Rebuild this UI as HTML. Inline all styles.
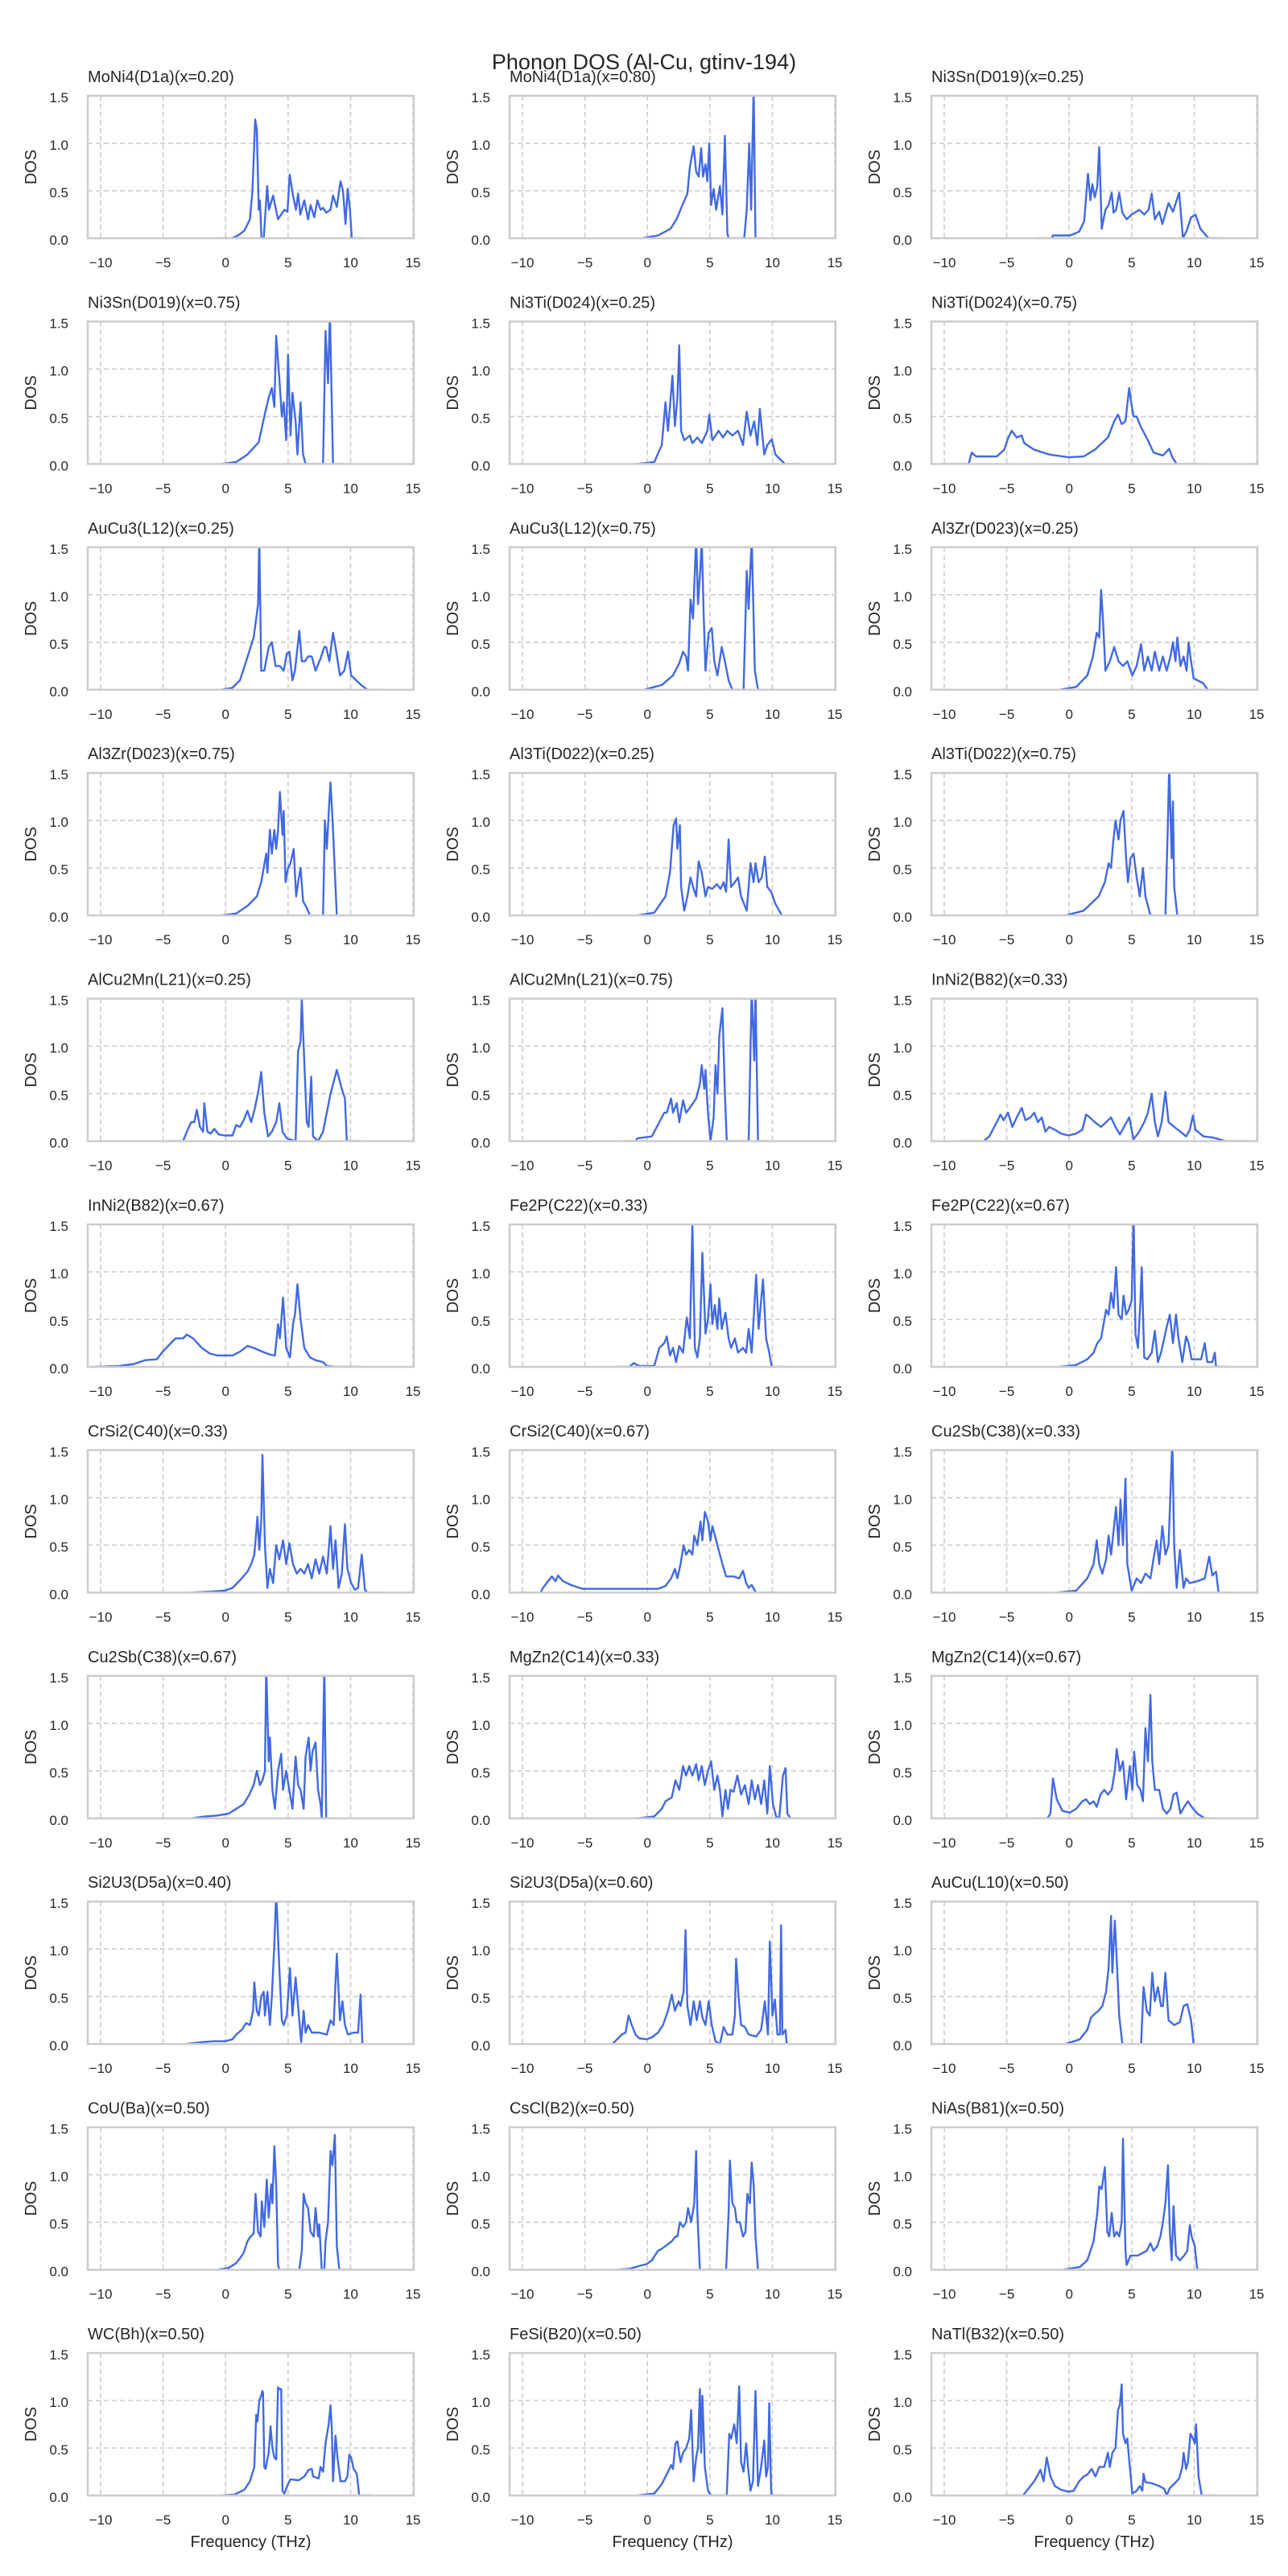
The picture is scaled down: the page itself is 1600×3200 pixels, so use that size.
<!DOCTYPE html>
<html><head><meta charset="utf-8"><title>Phonon DOS (Al-Cu, gtinv-194)</title>
<style>
html,body{margin:0;padding:0;background:#fff;}
svg{display:block;font-family:"Liberation Sans","DejaVu Sans",sans-serif;}
</style></head>
<body>
<svg id="fig" width="1600" height="3200" viewBox="0 0 1600 3200" xmlns="http://www.w3.org/2000/svg">
<rect width="1600" height="3200" fill="#fff"/>
<text x="800" y="86" text-anchor="middle" font-size="27" fill="#262626">Phonon DOS (Al-Cu, gtinv-194)</text>
</svg>
<script>
const titles = ["MoNi4(D1a)(x=0.20)","MoNi4(D1a)(x=0.80)","Ni3Sn(D019)(x=0.25)","Ni3Sn(D019)(x=0.75)","Ni3Ti(D024)(x=0.25)","Ni3Ti(D024)(x=0.75)","AuCu3(L12)(x=0.25)","AuCu3(L12)(x=0.75)","Al3Zr(D023)(x=0.25)","Al3Zr(D023)(x=0.75)","Al3Ti(D022)(x=0.25)","Al3Ti(D022)(x=0.75)","AlCu2Mn(L21)(x=0.25)","AlCu2Mn(L21)(x=0.75)","InNi2(B82)(x=0.33)","InNi2(B82)(x=0.67)","Fe2P(C22)(x=0.33)","Fe2P(C22)(x=0.67)","CrSi2(C40)(x=0.33)","CrSi2(C40)(x=0.67)","Cu2Sb(C38)(x=0.33)","Cu2Sb(C38)(x=0.67)","MgZn2(C14)(x=0.33)","MgZn2(C14)(x=0.67)","Si2U3(D5a)(x=0.40)","Si2U3(D5a)(x=0.60)","AuCu(L10)(x=0.50)","CoU(Ba)(x=0.50)","CsCl(B2)(x=0.50)","NiAs(B81)(x=0.50)","WC(Bh)(x=0.50)","FeSi(B20)(x=0.50)","NaTl(B32)(x=0.50)"];
const xTicks = [-10,-5,0,5,10,15];
const xTickLabels = ["\u221210","\u22125","0","5","10","15"];
const yTicks = [0,0.5,1.0,1.5];
const yTickLabels = ["0.0","0.5","1.0","1.5"];
const xDomain = [-11.03, 15.06];
const yDomain = [0, 1.5];
// each curve: [frequency (THz), DOS] pairs
const dos0=[[-0.6,0],[0.5,0],[1,0.03],[1.5,0.08],[1.95,0.2],[2.15,0.5],[2.37,1.25],[2.5,1.15],[2.65,0.3],[2.75,0.4],[2.87,0],[3.05,0],[3.33,0.55],[3.47,0.3],[3.8,0.45],[4.2,0.2],[4.7,0.3],[4.95,0.28],[5.13,0.67],[5.4,0.45],[5.63,0.3],[5.8,0.47],[5.98,0.25],[6.3,0.4],[6.6,0.2],[6.8,0.35],[7.1,0.22],[7.35,0.4],[7.6,0.3],[7.8,0.32],[8.05,0.27],[8.4,0.3],[8.6,0.45],[8.9,0.33],[9.2,0.6],[9.4,0.5],[9.6,0.15],[9.77,0.52],[9.95,0.3],[10.1,0],[11.1,0]];
const dos1=[[-0.45,0],[0.85,0.03],[1.85,0.1],[2.33,0.2],[2.8,0.35],[3.2,0.47],[3.4,0.75],[3.7,0.97],[3.9,0.7],[4.1,0.65],[4.3,0.95],[4.45,0.65],[4.65,0.78],[4.8,0.6],[4.95,1.0],[5.1,0.35],[5.3,0.52],[5.5,0.3],[5.8,0.55],[6.0,0.25],[6.2,1.08],[6.4,0.05],[6.5,0],[7.75,0],[7.95,0.3],[8.15,1.0],[8.3,0.3],[8.5,1.6],[8.65,0],[9.5,0]];
const dos2=[[-2.6,0],[-1.4,0],[-1.3,0.03],[0.07,0.03],[0.8,0.07],[1.2,0.18],[1.5,0.68],[1.7,0.4],[1.85,0.57],[2.05,0.43],[2.25,0.55],[2.4,0.96],[2.6,0.1],[2.9,0.3],[3.15,0.35],[3.4,0.48],[3.55,0.27],[3.75,0.3],[4.0,0.48],[4.25,0.27],[4.6,0.2],[5.0,0.25],[5.6,0.3],[6.0,0.25],[6.35,0.3],[6.6,0.47],[6.85,0.2],[7.2,0.28],[7.45,0.15],[7.95,0.37],[8.3,0.28],[8.8,0.48],[9.1,0],[9.4,0.08],[9.75,0.22],[10.1,0.25],[10.5,0.1],[11.15,0],[12.5,0]];
const dos3=[[-0.35,0],[0.85,0.02],[1.75,0.1],[2.65,0.23],[3.1,0.5],[3.45,0.7],[3.7,0.8],[3.9,0.6],[4.05,1.35],[4.3,0.9],[4.5,0.5],[4.65,0.65],[4.85,0.25],[5.0,1.15],[5.2,0.3],[5.35,0.75],[5.6,0.45],[5.75,0.1],[6.0,0.65],[6.2,0.1],[6.4,0],[7.8,0],[8.0,1.4],[8.2,0.85],[8.35,1.6],[8.6,0],[9.45,0]];
const dos4=[[-0.85,0],[0.55,0.02],[1.15,0.2],[1.45,0.65],[1.65,0.35],[2.0,0.93],[2.2,0.4],[2.4,0.7],[2.55,1.25],[2.7,0.35],[2.95,0.25],[3.4,0.3],[3.6,0.22],[4.0,0.28],[4.35,0.22],[4.8,0.35],[4.95,0.52],[5.2,0.25],[5.7,0.35],[6.05,0.28],[6.4,0.35],[6.8,0.3],[7.25,0.35],[7.65,0.2],[7.95,0.55],[8.25,0.3],[8.55,0.45],[8.8,0.2],[9.0,0.58],[9.35,0.1],[9.6,0.2],[9.95,0.26],[10.25,0.1],[11.0,0],[12.2,0]];
const dos5=[[-10.25,0],[-8.05,0],[-7.8,0.12],[-7.45,0.08],[-5.8,0.08],[-5.2,0.15],[-4.9,0.27],[-4.6,0.35],[-4.2,0.28],[-3.8,0.3],[-3.6,0.22],[-2.8,0.15],[-1.6,0.1],[-0.05,0.07],[1.15,0.08],[2.05,0.15],[3.1,0.28],[3.6,0.45],[3.9,0.52],[4.2,0.42],[4.5,0.45],[4.8,0.8],[4.95,0.65],[5.15,0.5],[5.4,0.5],[5.7,0.4],[6.3,0.25],[6.75,0.12],[7.5,0.09],[8.0,0.16],[8.25,0.07],[8.6,0],[10.5,0]];
const dos6=[[-0.35,0],[0.55,0.02],[1.15,0.1],[1.65,0.3],[2.25,0.55],[2.4,0.7],[2.6,0.9],[2.7,1.6],[2.85,0.2],[3.1,0.2],[3.45,0.45],[3.7,0.5],[4.0,0.25],[4.35,0.25],[4.65,0.2],[4.9,0.38],[5.1,0.4],[5.35,0.1],[5.55,0.2],[5.9,0.62],[6.1,0.3],[6.35,0.3],[6.6,0.35],[6.9,0.35],[7.2,0.2],[7.6,0.33],[7.9,0.45],[8.05,0.45],[8.3,0.3],[8.6,0.6],[8.8,0.45],[9.15,0.15],[9.5,0.2],[9.8,0.4],[10.05,0.15],[10.85,0.05],[11.35,0],[12.4,0]];
const dos7=[[-0.25,0],[1.15,0.05],[2.05,0.15],[2.55,0.28],[2.85,0.4],[3.1,0.35],[3.25,0.2],[3.45,0.95],[3.65,0.75],[3.9,1.6],[4.05,0.9],[4.25,1.3],[4.35,1.6],[4.5,0.8],[4.65,0.2],[4.9,0.6],[5.15,0.65],[5.35,0.3],[5.6,0.15],[5.95,0.45],[6.2,0.3],[6.5,0.1],[6.8,0],[7.7,0],[7.95,1.25],[8.1,0.85],[8.35,1.6],[8.6,0.2],[8.85,0],[9.65,0]];
const dos8=[[-0.8,0],[0.55,0.03],[1.45,0.15],[1.9,0.35],[2.2,0.6],[2.4,0.55],[2.55,1.05],[2.7,0.75],[2.9,0.2],[3.25,0.3],[3.6,0.45],[3.95,0.3],[4.3,0.25],[4.65,0.3],[5.05,0.15],[5.4,0.25],[5.75,0.48],[6.0,0.2],[6.3,0.35],[6.6,0.2],[6.85,0.4],[7.2,0.2],[7.5,0.35],[7.8,0.2],[8.1,0.35],[8.3,0.5],[8.5,0.3],[8.65,0.55],[8.9,0.25],[9.15,0.35],[9.4,0.2],[9.55,0.5],[9.75,0.3],[9.95,0.12],[10.7,0.07],[11.1,0],[12.05,0]];
const dos9=[[-0.35,0],[0.85,0.02],[1.75,0.1],[2.5,0.2],[2.85,0.35],[3.05,0.5],[3.25,0.65],[3.35,0.45],[3.55,0.9],[3.7,0.65],[3.9,0.9],[4.05,0.7],[4.2,0.9],[4.35,1.3],[4.55,0.85],[4.65,1.1],[4.8,0.35],[5.0,0.5],[5.2,0.55],[5.45,0.7],[5.65,0.2],[5.8,0.35],[6.0,0.5],[6.2,0.15],[6.5,0.08],[6.75,0],[7.8,0],[7.95,1.0],[8.1,0.7],[8.3,1.2],[8.4,1.4],[8.6,0.9],[8.8,0.3],[8.9,0],[9.75,0]];
const dos10=[[-0.8,0],[0.55,0.03],[1.45,0.2],[1.8,0.45],[2.1,0.95],[2.3,1.02],[2.4,0.7],[2.6,0.95],[2.7,0.3],[2.95,0.05],[3.2,0.2],[3.45,0.4],[3.65,0.3],[3.9,0.2],[4.1,0.57],[4.35,0.45],[4.65,0.2],[4.85,0.3],[5.2,0.28],[5.55,0.33],[5.85,0.28],[6.1,0.35],[6.3,0.25],[6.5,0.8],[6.7,0.3],[7.0,0.35],[7.25,0.4],[7.5,0.2],[7.95,0.05],[8.25,0.55],[8.5,0.35],[8.65,0.55],[8.9,0.35],[9.15,0.4],[9.4,0.62],[9.6,0.3],[9.9,0.25],[10.25,0.12],[10.55,0.05],[10.75,0],[11.65,0]];
const dos11=[[-0.3,0],[1.15,0.05],[2.35,0.2],[2.85,0.35],[3.15,0.55],[3.35,0.5],[3.5,0.75],[3.7,1.0],[3.95,0.8],[4.1,1.0],[4.35,1.1],[4.55,0.6],[4.7,0.35],[4.9,0.6],[5.15,0.65],[5.4,0.4],[5.65,0.2],[5.9,0.5],[6.1,0.2],[6.5,0],[7.7,0],[7.9,1.0],[8.0,1.6],[8.2,0.6],[8.3,1.2],[8.4,0.3],[8.65,0],[9.75,0]];
const dos12=[[-4.8,0],[-3.4,0],[-3.1,0.1],[-2.75,0.2],[-2.5,0.2],[-2.3,0.33],[-2.05,0.15],[-1.8,0.1],[-1.7,0.4],[-1.45,0.1],[-1.2,0.08],[-0.9,0.13],[-0.55,0.07],[-0.05,0.06],[0.55,0.06],[0.85,0.17],[1.15,0.15],[1.45,0.22],[1.75,0.32],[2.05,0.2],[2.35,0.35],[2.65,0.55],[2.85,0.73],[3.1,0.3],[3.4,0.05],[3.7,0.1],[4.05,0.2],[4.3,0.4],[4.55,0.1],[4.9,0.03],[5.6,0],[5.8,0.95],[6.0,1.05],[6.1,1.5],[6.25,1.0],[6.5,0.2],[6.65,0.15],[6.85,0.68],[7.0,0.05],[7.4,0],[7.8,0.1],[8.4,0.5],[8.9,0.75],[9.3,0.55],[9.55,0.45],[9.7,0],[10.9,0]];
const dos13=[[-2.0,0],[-0.95,0],[-0.8,0.03],[0.35,0.05],[0.95,0.2],[1.35,0.3],[1.55,0.3],[1.9,0.45],[2.05,0.3],[2.35,0.4],[2.55,0.2],[2.85,0.43],[3.1,0.3],[3.4,0.35],[3.65,0.4],[3.9,0.45],[4.2,0.6],[4.35,0.8],[4.55,0.55],[4.65,0.75],[4.85,0.3],[5.05,0],[5.3,0.25],[5.45,0.8],[5.6,0.5],[5.75,1.1],[6.0,1.4],[6.2,0.5],[6.35,0],[8.1,0],[8.35,1.6],[8.55,0.85],[8.65,1.6],[8.85,0],[9.8,0]];
const dos14=[[-8.8,0],[-6.85,0],[-6.4,0.05],[-5.8,0.2],[-5.5,0.28],[-5.25,0.22],[-4.9,0.3],[-4.55,0.15],[-4.2,0.25],[-3.8,0.35],[-3.5,0.22],[-3.1,0.25],[-2.8,0.3],[-2.5,0.2],[-2.2,0.25],[-1.9,0.1],[-1.6,0.15],[-1.15,0.12],[-0.65,0.08],[-0.05,0.06],[0.55,0.08],[1.05,0.12],[1.35,0.28],[1.65,0.25],[2.05,0.2],[2.55,0.15],[2.95,0.2],[3.35,0.25],[3.7,0.15],[4.05,0.07],[4.5,0.18],[4.8,0.25],[5.15,0.02],[5.6,0.1],[6.0,0.2],[6.3,0.3],[6.6,0.5],[6.85,0.2],[7.1,0.05],[7.4,0.2],[7.7,0.52],[7.95,0.2],[8.4,0.15],[8.9,0.1],[9.35,0.05],[9.65,0.12],[9.9,0.27],[10.1,0.12],[10.75,0.05],[11.45,0.04],[12.55,0],[14.5,0]];
const dos15=[[-10.65,0],[-8.55,0.01],[-7.35,0.03],[-6.45,0.07],[-5.5,0.08],[-5.1,0.15],[-4.6,0.22],[-4.0,0.3],[-3.4,0.3],[-3.1,0.34],[-2.6,0.3],[-1.9,0.2],[-1.25,0.14],[-0.65,0.12],[0.55,0.12],[1.15,0.16],[1.75,0.22],[2.25,0.2],[2.95,0.16],[3.55,0.13],[3.95,0.12],[4.2,0.45],[4.35,0.3],[4.6,0.73],[4.85,0.2],[5.15,0.1],[5.4,0.45],[5.55,0.55],[5.75,0.87],[6.0,0.5],[6.3,0.2],[6.75,0.1],[7.2,0.07],[7.8,0.05],[8.1,0.01],[8.7,0],[10.85,0]];
const dos16=[[-2.5,0],[-1.45,0],[-1.1,0.04],[-0.65,0.01],[0.55,0.01],[0.95,0.2],[1.35,0.25],[1.55,0.32],[1.8,0.12],[2.05,0.2],[2.3,0.05],[2.55,0.22],[2.85,0.15],[3.15,0.52],[3.4,0.3],[3.6,1.5],[3.8,0.2],[4.0,0.1],[4.2,0.3],[4.4,1.2],[4.65,0.35],[4.85,0.5],[5.05,0.87],[5.2,0.45],[5.4,0.65],[5.6,0.4],[5.75,0.72],[5.95,0.4],[6.25,0.57],[6.5,0.3],[6.7,0.2],[7.0,0.3],[7.25,0.15],[7.65,0.2],[7.9,0.15],[8.1,0.4],[8.35,0.15],[8.7,0.97],[8.9,0.4],[9.25,0.92],[9.5,0.3],[9.75,0.15],[9.95,0],[11.05,0]];
const dos17=[[-0.8,0],[0.55,0.02],[1.45,0.08],[1.95,0.15],[2.25,0.25],[2.55,0.3],[2.95,0.6],[3.15,0.55],[3.35,0.78],[3.55,0.62],[3.75,1.05],[3.95,0.55],[4.2,0.5],[4.35,0.75],[4.55,0.55],[4.75,0.6],[5.0,0.7],[5.15,1.6],[5.3,0.35],[5.5,0.2],[5.7,0.7],[5.8,1.05],[6.0,0.1],[6.25,0.08],[6.6,0.15],[6.85,0.38],[7.1,0.05],[7.35,0.15],[7.6,0.3],[7.8,0.42],[8.05,0.55],[8.3,0.25],[8.55,0.55],[8.75,0.3],[9.05,0.05],[9.35,0.32],[9.55,0.25],[9.8,0.08],[10.55,0.08],[10.85,0.25],[11.05,0.05],[11.45,0.05],[11.65,0.15],[11.75,0],[12.8,0]];
const dos18=[[-2.95,0],[-1.25,0.01],[-0.05,0.02],[0.55,0.05],[1.15,0.13],[1.75,0.22],[2.05,0.3],[2.3,0.4],[2.4,0.55],[2.55,0.8],[2.7,0.45],[2.85,0.75],[2.95,1.45],[3.15,0.5],[3.35,0.05],[3.55,0.25],[3.8,0.1],[4.05,0.5],[4.3,0.35],[4.6,0.55],[4.85,0.3],[5.1,0.52],[5.4,0.3],[5.7,0.2],[6.0,0.25],[6.3,0.2],[6.6,0.3],[6.9,0.15],[7.2,0.35],[7.5,0.2],[7.8,0.38],[8.1,0.2],[8.4,0.7],[8.6,0.25],[8.8,0.55],[9.05,0.05],[9.3,0.2],[9.55,0.72],[9.75,0.25],[10.05,0.1],[10.35,0.03],[10.6,0.05],[10.9,0.4],[11.15,0.03],[11.35,0],[12.65,0]];
const dos19=[[-10.2,0],[-8.55,0],[-8.35,0.05],[-7.95,0.12],[-7.65,0.17],[-7.35,0.12],[-7.15,0.18],[-6.75,0.12],[-6.1,0.08],[-5.2,0.04],[-2.8,0.04],[0.85,0.04],[1.45,0.07],[1.9,0.15],[2.2,0.25],[2.4,0.15],[2.65,0.3],[2.9,0.5],[3.1,0.4],[3.35,0.45],[3.6,0.4],[3.75,0.6],[4.0,0.5],[4.25,0.75],[4.4,0.55],[4.6,0.85],[4.85,0.75],[5.05,0.55],[5.2,0.7],[5.45,0.58],[5.7,0.45],[6.0,0.3],[6.3,0.17],[6.9,0.17],[7.35,0.15],[7.65,0.23],[7.9,0.1],[8.1,0.05],[8.35,0.08],[8.6,0.02],[8.7,0],[10.4,0]];
const dos20=[[-1.0,0],[0.55,0.02],[1.45,0.15],[1.95,0.3],[2.2,0.55],[2.4,0.3],[2.65,0.2],[2.95,0.35],[3.15,0.6],[3.35,0.4],[3.55,0.65],[3.75,0.9],[3.95,0.5],[4.1,0.98],[4.3,0.5],[4.5,1.2],[4.65,0.3],[5.0,0.02],[5.4,0.15],[5.75,0.1],[6.1,0.2],[6.5,0.15],[6.8,0.4],[7.0,0.55],[7.2,0.3],[7.45,0.7],[7.7,0.4],[7.95,0.5],[8.1,1.05],[8.25,1.6],[8.4,0.5],[8.6,0.05],[8.85,0.45],[9.15,0.05],[9.35,0.15],[9.65,0.1],[10.25,0.12],[10.85,0.15],[11.2,0.38],[11.45,0.18],[11.75,0.22],[11.95,0],[13.15,0]];
const dos21=[[-2.8,0],[-1.6,0.02],[-0.65,0.03],[0.25,0.05],[0.85,0.1],[1.45,0.15],[1.9,0.25],[2.25,0.35],[2.5,0.5],[2.75,0.35],[2.95,0.4],[3.15,0.5],[3.25,1.6],[3.45,0.6],[3.55,0.85],[3.75,0.3],[3.95,0.1],[4.2,0.5],[4.45,0.68],[4.6,0.3],[4.85,0.5],[5.1,0.3],[5.35,0.1],[5.6,0.65],[5.8,0.35],[6.0,0.3],[6.25,0.1],[6.4,0.65],[6.65,0.85],[6.8,0.5],[6.95,0.7],[7.2,0.8],[7.4,0.3],[7.6,0.15],[7.7,0],[7.9,1.6],[8.05,0],[9.0,0]];
const dos22=[[-0.8,0],[0.55,0.02],[1.15,0.1],[1.45,0.18],[1.95,0.22],[2.25,0.4],[2.55,0.3],[2.85,0.55],[3.1,0.45],[3.35,0.55],[3.6,0.45],[3.9,0.57],[4.1,0.4],[4.35,0.55],[4.6,0.35],[4.85,0.5],[5.1,0.6],[5.35,0.3],[5.6,0.45],[5.8,0.3],[6.0,0.02],[6.25,0.3],[6.45,0.1],[6.65,0.3],[6.9,0.28],[7.2,0.45],[7.5,0.25],[7.8,0.35],[8.1,0.15],[8.35,0.4],[8.6,0.2],[8.85,0.35],[9.1,0.15],[9.35,0.4],[9.6,0.05],[9.8,0.55],[10.05,0.15],[10.3,0.02],[10.55,0],[10.85,0.45],[11.05,0.53],[11.2,0.05],[11.45,0],[12.35,0]];
const dos23=[[-3.1,0],[-1.75,0],[-1.5,0.05],[-1.3,0.42],[-1.0,0.2],[-0.55,0.08],[0.05,0.06],[0.55,0.1],[1.05,0.18],[1.35,0.2],[1.65,0.15],[1.95,0.18],[2.2,0.12],[2.5,0.25],[2.8,0.3],[3.1,0.25],[3.4,0.3],[3.65,0.5],[3.8,0.73],[4.05,0.5],[4.3,0.6],[4.55,0.2],[4.85,0.55],[5.05,0.3],[5.2,0.7],[5.45,0.35],[5.7,0.3],[5.9,0.18],[6.1,0.95],[6.3,0.6],[6.5,1.3],[6.65,0.6],[6.85,0.3],[7.2,0.3],[7.5,0.1],[7.8,0.05],[8.1,0.1],[8.35,0.25],[8.6,0.27],[8.9,0.05],[9.2,0.12],[9.5,0.18],[9.8,0.12],[10.25,0.05],[10.85,0],[11.75,0]];
const dos24=[[-3.2,0],[-1.9,0.02],[-0.95,0.03],[-0.05,0.03],[0.55,0.05],[0.85,0.1],[1.3,0.15],[1.65,0.22],[1.95,0.2],[2.2,0.35],[2.3,0.65],[2.5,0.35],[2.65,0.3],[2.85,0.5],[3.05,0.55],[3.15,0.3],[3.35,0.55],[3.55,0.2],[3.7,0.5],[3.9,1.05],[4.05,1.6],[4.3,0.8],[4.5,0.25],[4.65,0.2],[4.9,0.3],[5.15,0.8],[5.35,0.3],[5.6,0.7],[5.8,0.4],[6.05,0.02],[6.25,0.35],[6.4,0.12],[6.6,0.2],[6.9,0.12],[7.5,0.12],[8.1,0.1],[8.4,0.25],[8.65,0.2],[8.9,0.95],[9.15,0.25],[9.35,0.45],[9.55,0.2],[9.8,0.1],[10.25,0.12],[10.6,0.12],[10.8,0.52],[10.95,0],[12.05,0]];
const dos25=[[-4.1,0],[-2.8,0],[-2.05,0.1],[-1.75,0.12],[-1.5,0.3],[-1.25,0.2],[-0.95,0.1],[-0.65,0.06],[-0.05,0.05],[0.35,0.07],[0.85,0.12],[1.25,0.2],[1.65,0.35],[1.95,0.52],[2.2,0.35],[2.5,0.45],[2.65,0.4],[2.9,0.55],[3.05,1.2],[3.2,0.4],[3.45,0.2],[3.7,0.45],[3.95,0.25],[4.2,0.45],[4.4,0.28],[4.65,0.2],[4.9,0.45],[5.15,0.2],[5.45,0.03],[5.8,0],[6.1,0.18],[6.4,0.1],[6.8,0.1],[7.0,0.3],[7.1,0.9],[7.3,0.5],[7.5,0.2],[7.8,0.18],[8.1,0.1],[8.7,0.08],[9.1,0.15],[9.4,0.45],[9.65,0.1],[9.8,1.08],[10.0,0.3],[10.2,0.47],[10.4,0.1],[10.6,0.1],[10.7,1.25],[10.8,0.1],[11.05,0.15],[11.15,0],[12.35,0]];
const dos26=[[-0.3,0],[0.85,0.05],[1.45,0.15],[1.75,0.28],[2.05,0.32],[2.35,0.35],[2.65,0.4],[2.95,0.55],[3.15,0.8],[3.35,1.35],[3.45,0.75],[3.65,1.3],[3.8,0.9],[4.0,0.3],[4.25,0],[5.75,0],[5.95,0.6],[6.2,0.35],[6.45,0.3],[6.65,0.75],[6.85,0.45],[7.1,0.6],[7.35,0.4],[7.5,0.4],[7.7,0.75],[7.95,0.25],[8.4,0.2],[8.85,0.23],[9.15,0.4],[9.45,0.42],[9.75,0.25],[9.95,0],[10.85,0]];
const dos27=[[-0.65,0],[0.25,0.02],[0.85,0.07],[1.15,0.12],[1.45,0.18],[1.75,0.3],[2.0,0.35],[2.25,0.38],[2.4,0.8],[2.6,0.4],[2.8,0.35],[2.9,0.72],[3.1,0.45],[3.3,0.95],[3.45,0.55],[3.65,0.9],[3.75,0.7],[3.9,1.3],[4.05,0.9],[4.2,0.05],[4.3,0],[5.9,0],[6.1,0.2],[6.25,0.8],[6.4,0.7],[6.6,0.65],[6.8,0.4],[7.05,0.35],[7.2,0.65],[7.4,0.35],[7.5,0.48],[7.7,0],[7.9,0],[8.0,0.3],[8.2,0.5],[8.4,1.25],[8.55,1.1],[8.75,1.42],[8.9,0.25],[9.1,0],[10.0,0]];
const dos28=[[-2.45,0],[-1.45,0.01],[-0.65,0.04],[-0.05,0.06],[0.35,0.1],[0.85,0.2],[1.15,0.22],[1.55,0.26],[1.95,0.3],[2.25,0.35],[2.4,0.35],[2.6,0.5],[2.85,0.45],[3.1,0.5],[3.25,0.65],[3.5,0.5],[3.75,0.7],[3.9,1.25],[4.0,0.6],[4.2,0],[6.3,0],[6.5,0.6],[6.6,1.15],[6.8,0.7],[7.0,0.65],[7.15,0.5],[7.4,0.5],[7.65,0.35],[7.85,0.4],[8.0,0.8],[8.2,0.7],[8.35,1.13],[8.5,0.9],[8.65,0.35],[8.85,0],[9.8,0]];
const dos29=[[-0.5,0],[0.85,0.03],[1.45,0.1],[1.95,0.3],[2.25,0.6],[2.4,0.88],[2.6,0.85],[2.85,1.08],[3.05,0.4],[3.2,0.35],[3.4,0.6],[3.6,0.35],[3.8,0.4],[4.0,0.35],[4.2,0.5],[4.3,1.38],[4.5,0.2],[4.6,0.05],[4.9,0.15],[5.5,0.15],[5.9,0.18],[6.2,0.2],[6.5,0.28],[6.75,0.2],[7.05,0.25],[7.3,0.35],[7.5,0.5],[7.7,0.7],[7.9,1.1],[8.05,0.4],[8.2,0.1],[8.35,0.67],[8.55,0.15],[8.85,0.1],[9.2,0.15],[9.45,0.2],[9.65,0.47],[9.8,0.35],[10.05,0.25],[10.25,0],[11.15,0]];
const dos30=[[-0.35,0],[0.7,0.01],[1.5,0.06],[1.95,0.15],[2.3,0.3],[2.45,0.85],[2.55,0.78],[2.7,1.0],[2.85,1.05],[2.95,1.1],[3.0,1.08],[3.1,0.3],[3.2,0.28],[3.45,0.45],[3.6,0.73],[3.75,0.5],[3.9,0.4],[4.05,0.38],[4.2,1.14],[4.3,1.12],[4.45,1.12],[4.55,0.05],[4.7,0.02],[5.0,0.12],[5.2,0.17],[5.85,0.16],[6.3,0.2],[6.65,0.27],[6.9,0.28],[7.0,0.2],[7.45,0.18],[7.6,0.3],[7.8,0.25],[8.0,0.55],[8.25,0.75],[8.4,0.95],[8.5,0.7],[8.6,0.15],[8.8,0.63],[8.95,0.4],[9.2,0.15],[9.55,0.15],[9.75,0.2],[9.9,0.43],[10.05,0.4],[10.25,0.28],[10.5,0.23],[10.7,0],[11.7,0]];
const dos31=[[-0.8,0],[0.55,0.02],[1.15,0.12],[1.65,0.25],[1.9,0.32],[2.05,0.28],[2.25,0.55],[2.4,0.57],[2.65,0.35],[2.85,0.45],[3.1,0.5],[3.35,0.6],[3.5,0.9],[3.7,0.15],[3.9,0.4],[4.05,0.5],[4.2,1.12],[4.3,0.45],[4.4,1.05],[4.6,0.3],[4.85,0.05],[5.1,0],[6.35,0],[6.55,0.65],[6.7,0.6],[6.95,0.75],[7.15,0.55],[7.35,1.15],[7.5,0.35],[7.7,0.25],[7.9,0.55],[8.05,0.3],[8.25,0.05],[8.45,0.15],[8.65,1.1],[8.85,0.1],[9.1,0.3],[9.35,0.58],[9.5,0.2],[9.65,0.3],[9.75,0.97],[9.9,0.05],[9.95,0],[10.85,0]];
const dos32=[[-5.1,0],[-3.7,0],[-3.4,0.05],[-2.8,0.15],[-2.5,0.22],[-2.3,0.27],[-2.05,0.15],[-1.8,0.4],[-1.5,0.2],[-1.15,0.1],[-0.65,0.06],[-0.05,0.04],[0.35,0.05],[0.8,0.15],[1.15,0.2],[1.45,0.22],[1.8,0.28],[2.1,0.2],[2.4,0.3],[2.8,0.3],[3.1,0.45],[3.25,0.3],[3.45,0.45],[3.7,0.5],[3.9,0.9],[4.05,0.95],[4.2,1.17],[4.3,0.65],[4.5,0.55],[4.65,0.6],[4.85,0.3],[5.05,0.02],[5.4,0.05],[5.65,0.1],[5.85,0.05],[5.95,0.23],[6.1,0.14],[6.6,0.13],[7.2,0.1],[7.6,0.07],[7.8,0],[8.05,0.08],[8.4,0.12],[8.8,0.18],[9.05,0.3],[9.15,0.45],[9.35,0.28],[9.5,0.35],[9.7,0.65],[9.9,0.6],[10.05,0.55],[10.15,0.75],[10.35,0.2],[10.6,0],[11.75,0]];
const curves=[dos0,dos1,dos2,dos3,dos4,dos5,dos6,dos7,dos8,dos9,dos10,dos11,dos12,dos13,dos14,dos15,dos16,dos17,dos18,dos19,dos20,dos21,dos22,dos23,dos24,dos25,dos26,dos27,dos28,dos29,dos30,dos31,dos32];

const NS="http://www.w3.org/2000/svg";
const svg=document.getElementById('fig');
const colLeft=[109,633,1157], axW=405, axH=177, row0=119, rowPitch=280.4;
function mk(tag,attrs,parent){const e=document.createElementNS(NS,tag);for(const k in attrs)e.setAttribute(k,attrs[k]);(parent||svg).appendChild(e);return e;}
const defs=mk('defs',{});
const nRows=Math.ceil(titles.length/3);
for(let i=0;i<titles.length;i++){
  const r=Math.floor(i/3), c=i%3;
  const L=colLeft[c], T=row0+r*rowPitch, B=T+axH, R=L+axW;
  const sx=v=>L+(v-xDomain[0])/(xDomain[1]-xDomain[0])*axW;
  const sy=v=>B-(v-yDomain[0])/(yDomain[1]-yDomain[0])*axH;
  const g=mk('g',{});
  
  
  const cp=mk('clipPath',{id:'cp'+i},defs);
  mk('rect',{x:L,y:T,width:axW,height:axH},cp);
  // grid
  xTicks.forEach((t,k)=>{
    const gl=mk('line',{x1:sx(t),x2:sx(t),y1:T,y2:B,stroke:'#cccccc','stroke-width':1.6,'stroke-dasharray':'6,4'},g);
    
    
    const tl=mk('text',{x:sx(t),y:B+36,'text-anchor':'middle','font-size':17,fill:'#262626'},g);
    tl.textContent=xTickLabels[k];
    
    
  });
  yTicks.forEach((t,k)=>{
    const gl=mk('line',{x1:L,x2:R,y1:sy(t),y2:sy(t),stroke:'#cccccc','stroke-width':1.6,'stroke-dasharray':'6,4'},g);
    
    
    const tl=mk('text',{x:L-24,y:sy(t)+8,'text-anchor':'end','font-size':17,fill:'#262626'},g);
    tl.textContent=yTickLabels[k];
    
    
  });
  // curve
  const d=curves[i].map((p,k)=>(k?'L':'M')+sx(p[0]).toFixed(1)+','+sy(p[1]).toFixed(1)).join('');
  const path=mk('path',{d:d,fill:'none',stroke:'#4169e1','stroke-width':2.4,'stroke-linejoin':'round','clip-path':'url(#cp'+i+')'},g);
  
  
  // frame
  const fr=mk('rect',{x:L,y:T,width:axW,height:axH,fill:'none',stroke:'#cccccc','stroke-width':2.5},g);
  
  
  const tt=mk('text',{x:L,y:T-17,'font-size':20,fill:'#262626'},g);
  tt.textContent=titles[i];
  
  
  const yl=mk('text',{x:0,y:0,'text-anchor':'middle','font-size':20,fill:'#262626',transform:'translate('+(L-64)+','+(T+axH/2)+') rotate(-90)'},g);
  yl.textContent='DOS';
  
  
  if(r===nRows-1){
    const xl=mk('text',{x:L+axW/2,y:B+64,'text-anchor':'middle','font-size':20,fill:'#262626'},g);
    xl.textContent='Frequency (THz)';
    
    
  }
}
</script>
</body></html>
